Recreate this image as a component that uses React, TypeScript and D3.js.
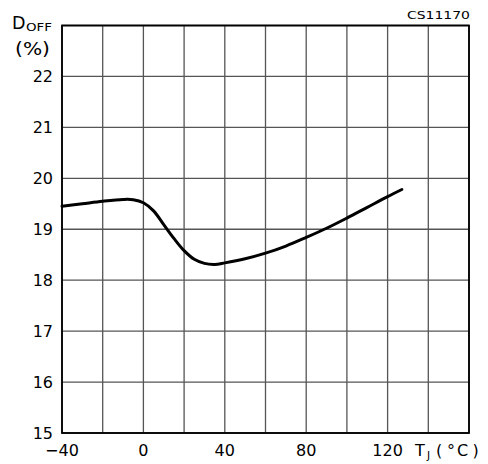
import React from "react";
import * as d3 from "d3";

const tempC = [-40, -30, -20, -10, -5, 0, 5, 10, 15, 20, 25, 30, 35, 40, 50, 60, 70, 80, 90, 100, 110, 120, 127];
const dOff = [19.45, 19.5, 19.55, 19.585, 19.58, 19.52, 19.36, 19.09, 18.82, 18.58, 18.41, 18.33, 18.31, 18.34, 18.42, 18.53, 18.67, 18.84, 19.02, 19.22, 19.43, 19.64, 19.78];
const xTickLabels = [-40, 0, 40, 80, 120];
const yTickLabels = [15, 16, 17, 18, 19, 20, 21, 22];
const xGrid = d3.range(-40, 161, 20);
const yGrid = d3.range(15, 24, 1);

export default function App() {
  const W = 488, H = 464;
  const left = 62, right = 469, top = 25.5, bottom = 433;
  const x = d3.scaleLinear().domain([-40, 160]).range([left, right]);
  const y = d3.scaleLinear().domain([15, 23]).range([bottom, top]);
  const line = d3
    .line<number>()
    .x((_, i) => x(tempC[i]))
    .y((d) => y(d))
    .curve(d3.curveCatmullRom.alpha(0.5));
  const font = "'DejaVu Sans', sans-serif";
  return (
    <svg width={W} height={H} style={{ position: "absolute", left: 0, top: 0, background: "#fff" }} fontFamily={font}>
      {xGrid.map((t) => (
        <line key={"vx" + t} x1={x(t)} x2={x(t)} y1={top} y2={bottom} stroke="#555" strokeWidth={1.3} />
      ))}
      {yGrid.map((t) => (
        <line key={"hy" + t} x1={left} x2={right} y1={y(t)} y2={y(t)} stroke="#555" strokeWidth={1.3} />
      ))}
      <rect x={left} y={top} width={right - left} height={bottom - top} fill="none" stroke="#000" strokeWidth={1.8} />
      <path d={line(dOff) || ""} fill="none" stroke="#000" strokeWidth={3} strokeLinejoin="round" strokeLinecap="round" />
      {yTickLabels.map((t) => (
        <text key={"yl" + t} x={53} y={y(t) + 6} textAnchor="end" fontSize={16} fill="#000">
          {t}
        </text>
      ))}
      {xTickLabels.map((t) => (
        <text key={"xl" + t} x={x(t)} y={456} textAnchor="middle" fontSize={16} fill="#000">
          {t < 0 ? "\u2212" + Math.abs(t) : String(t)}
        </text>
      ))}
      <text x={415} y={456} fontSize={16} fill="#000">T</text>
      <text x={427} y={459} fontSize={10.5} fill="#000">J</text>
      <text x={436} y={456} fontSize={16} fill="#000">(</text>
      <text x={447} y={456} fontSize={16} fill="#000">°</text>
      <text x={457} y={456} fontSize={16} fill="#000">C</text>
      <text x={472.5} y={456} fontSize={16} fill="#000">)</text>
      <text x={12} y={28.5} fontSize={17.5} fill="#000">D</text>
      <text x={26} y={30.5} fontSize={11} fill="#000" textLength={26} lengthAdjust="spacingAndGlyphs">OFF</text>
      <text x={15} y={54.5} fontSize={17} fill="#000" textLength={35} lengthAdjust="spacingAndGlyphs">(%)</text>
      <text x={470} y={19} textAnchor="end" fontSize={11} fill="#000" textLength={63} lengthAdjust="spacingAndGlyphs">CS11170</text>
    </svg>
  );
}
